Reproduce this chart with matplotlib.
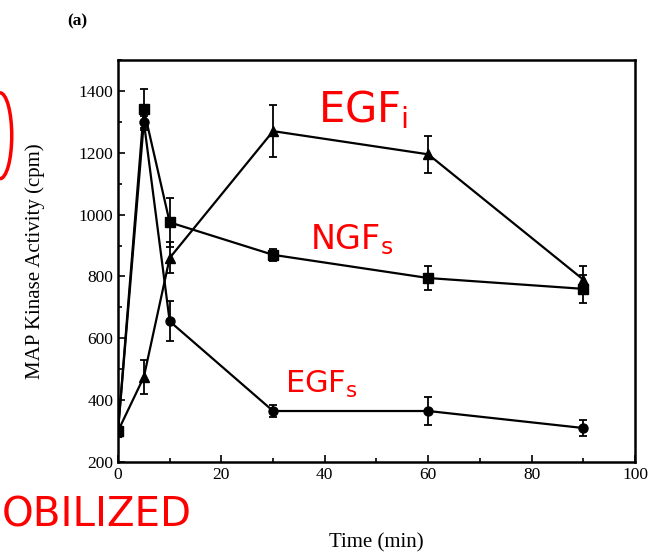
import numpy as np
import matplotlib.pyplot as plt
from matplotlib.patches import Arc

time_min = [0, 5, 10, 30, 60, 90]

# EGF internalised (triangles)
egf_i = [300, 475, 860, 1270, 1195, 790]
egf_i_err = [20, 55, 50, 85, 60, 45]

# NGF stimulated (squares)
ngf_s = [300, 1340, 975, 870, 795, 760]
ngf_s_err = [20, 65, 80, 20, 40, 45]

# EGF stimulated (circles)
egf_s = [300, 1300, 655, 365, 365, 310]
egf_s_err = [20, 20, 65, 20, 45, 25]

plt.rcParams['font.family'] = ['Liberation Serif', 'DejaVu Serif']
plt.rcParams['mathtext.fontset'] = 'dejavusans'

fig = plt.figure(figsize=(6.53, 5.54), dpi=100)
ax = fig.add_axes([0.1807, 0.166, 0.7917, 0.7257])

kw = dict(color='black', lw=1.6, capsize=3, elinewidth=1.3, capthick=1.3)
ax.errorbar(time_min, egf_i, yerr=egf_i_err, marker='^', ms=6.5, **kw)
ax.errorbar(time_min, ngf_s, yerr=ngf_s_err, marker='s', ms=6.5, **kw)
ax.errorbar(time_min, egf_s, yerr=egf_s_err, marker='o', ms=6.5, **kw)

ax.set_xlim(0, 100)
ax.set_ylim(200, 1500)
ax.set_xticks(np.arange(0, 101, 20))
ax.set_xticks(np.arange(0, 101, 10), minor=True)
ax.set_yticks(np.arange(200, 1401, 200))
ax.set_yticks(np.arange(200, 1501, 100), minor=True)
ax.tick_params(direction='in', length=5, width=1.2, labelsize=12.5, colors='black')
ax.tick_params(which='minor', direction='in', length=3, width=1.2)
for s in ax.spines.values():
    s.set_linewidth(1.8)

ax.set_xlabel('Time (min)', fontsize=15, labelpad=36)
ax.set_ylabel('MAP Kinase Activity (cpm)', fontsize=15, labelpad=24)
fig.text(0.103, 0.962, '(a)', fontsize=12.5, fontweight='bold', ha='left', va='center')

# red handwritten annotations
red = dict(color='red', family='DejaVu Sans', fontweight='normal')
fig.text(0.487, 0.78, r'EGF$_{\mathrm{i}}$', fontsize=30, **red)
fig.text(0.475, 0.55, r'NGF$_{\mathrm{s}}$', fontsize=24, **red)
fig.text(0.437, 0.29, r'EGF$_{\mathrm{s}}$', fontsize=22, **red)
fig.text(0.002, 0.05, 'OBILIZED', fontsize=29, **red)
arc = Arc((0.0, 0.755), 0.036, 0.155, theta1=-90, theta2=90, color='red', lw=2.5,
          transform=fig.transFigure, clip_on=False)
fig.add_artist(arc)

fig.savefig('out.png', dpi=100)
